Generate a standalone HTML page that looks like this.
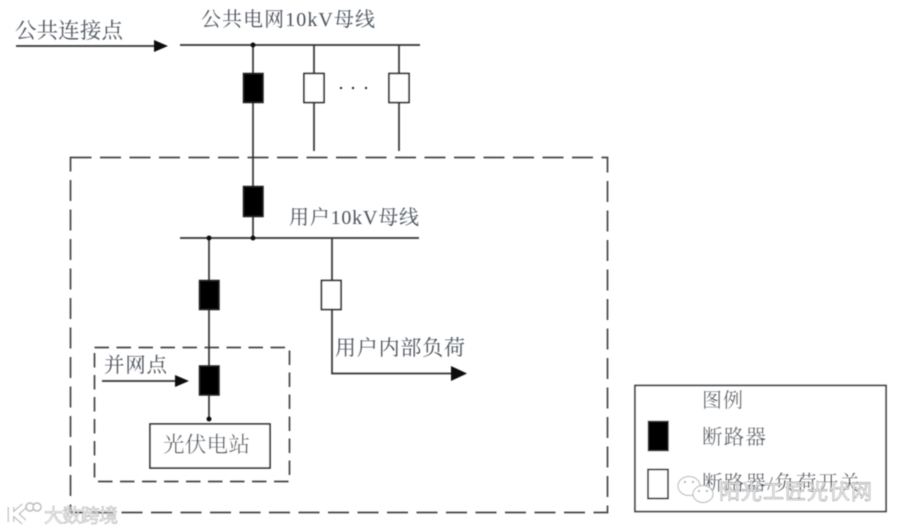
<!DOCTYPE html>
<html><head><meta charset="utf-8"><style>
html,body{margin:0;padding:0;background:#fff;width:900px;height:532px;overflow:hidden}
svg{display:block}
text{font-family:"Liberation Serif","Noto Serif CJK SC",serif;fill:#4c525c;font-size:18px}
</style></head><body>
<svg width="900" height="532" viewBox="0 0 900 532" xmlns="http://www.w3.org/2000/svg">
<defs><filter id="b" x="-5%" y="-5%" width="110%" height="110%"><feGaussianBlur stdDeviation="0.4"/></filter></defs>
<rect width="900" height="532" fill="#fff"/>
<g filter="url(#b)">
<g fill="none" stroke="#444" stroke-width="1.7">
<rect x="70.5" y="157.5" width="537" height="355" stroke-dasharray="21 8.5"/>
<rect x="94.5" y="347.5" width="195" height="134" stroke-dasharray="14.5 7.5"/>
</g>
<g stroke="#333" stroke-width="1.7" fill="none">
<path d="M180 45H420M180 238H419"/>
<path d="M253 45V238M314 45V151M399 45V151M209 238V419M332 238V373.500H452"/>
<path d="M16 46H156M102 381H176"/>
</g>
<g fill="#fff" stroke="#222" stroke-width="1.600">
<rect x="635" y="385.500" width="251" height="126" stroke="#333"/>
<rect x="304" y="73.500" width="20" height="29"/>
<rect x="389" y="73.500" width="20" height="29"/>
<rect x="321.500" y="280.500" width="19.500" height="29"/>
<rect x="648" y="469.500" width="20" height="29"/>
<rect x="150" y="424" width="120" height="44"/>
</g>
<g fill="#000" stroke="#222" stroke-width="1.500">
<rect x="243.500" y="73.500" width="19.500" height="29"/>
<rect x="243.500" y="186.500" width="19.500" height="30"/>
<rect x="199.500" y="280.500" width="19.500" height="29"/>
<rect x="199.500" y="366" width="19.500" height="29"/>
<rect x="648.500" y="421.500" width="19.500" height="29"/>
</g>
<g fill="#111">
<circle cx="253" cy="45" r="2.500"/><circle cx="253" cy="238" r="2.500"/>
<circle cx="209" cy="238" r="2.500"/><circle cx="209" cy="419" r="2.500"/>
<path d="M154 40L168 46L154 52Z"/><path d="M175 375L189 381L175 387Z"/>
<path d="M451 366L467 373.500L451 381Z"/>
<circle cx="341" cy="88" r="1.100"/><circle cx="353" cy="88" r="1.100"/><circle cx="366" cy="88" r="1.100"/>
</g>
<text x="15" y="38" textLength="108" style="font-size:21.500px">公共连接点</text>
<text x="201" y="26" textLength="174" style="font-size:20px">公共电网10kV母线</text>
<text x="289" y="224" textLength="130" style="font-size:20px">用户10kV母线</text>
<text x="335" y="355" textLength="130" style="font-size:21px">用户内部负荷</text>
<text x="104" y="372" textLength="63" style="font-size:20.500px">并网点</text>
<text x="163" y="452" textLength="87" style="font-size:21.500px">光伏电站</text>
<text x="702" y="407" textLength="41" style="font-size:20px">图例</text>
<text x="702" y="444" textLength="64" style="font-size:20.500px">断路器</text>
<text x="702" y="490" textLength="158" style="font-size:20.500px">断路器/负荷开关</text>
</g>
<g filter="url(#b)">
<text x="719" y="499" textLength="153" style="font-size:21px;fill:#fff;stroke:#fff;stroke-width:1px;opacity:.6;font-family:'Liberation Sans','Noto Sans CJK SC',sans-serif">阳光工匠光伏网</text>
<text x="719" y="499" textLength="153" style="font-size:21px;fill:#f4f4f5;stroke:#777;stroke-width:.4px;font-family:'Liberation Sans','Noto Sans CJK SC',sans-serif">阳光工匠光伏网</text>
<g fill="#fff" stroke="#b5b5b5" stroke-width="1">
<ellipse cx="689" cy="486" rx="11" ry="9.500"/>
<ellipse cx="703" cy="494" rx="10" ry="8.500"/>
</g>
<g fill="#999"><circle cx="685" cy="482" r="1"/><circle cx="693" cy="482" r="1"/><circle cx="699" cy="491" r="1"/><circle cx="707" cy="491" r="1"/></g>
<text x="44" y="522" textLength="74" style="font-size:19px;fill:#f2f2f2;stroke:#aaa;stroke-width:.5px;font-family:'Liberation Sans','Noto Sans CJK SC',sans-serif">大数跨境</text>
<path d="M11 507V522M24 506L15 514L24 522" fill="none" stroke="#b0b0b0" stroke-width="6.500"/>
<path d="M11 507V522M24 506L15 514L24 522" fill="none" stroke="#fff" stroke-width="4.500"/>
<circle cx="30" cy="507" r="4" fill="#fff" stroke="#bbb" stroke-width="1.500"/>
<circle cx="37" cy="507" r="4" fill="#fff" stroke="#bbb" stroke-width="1.500"/>
</g>
</svg>
</body></html>
